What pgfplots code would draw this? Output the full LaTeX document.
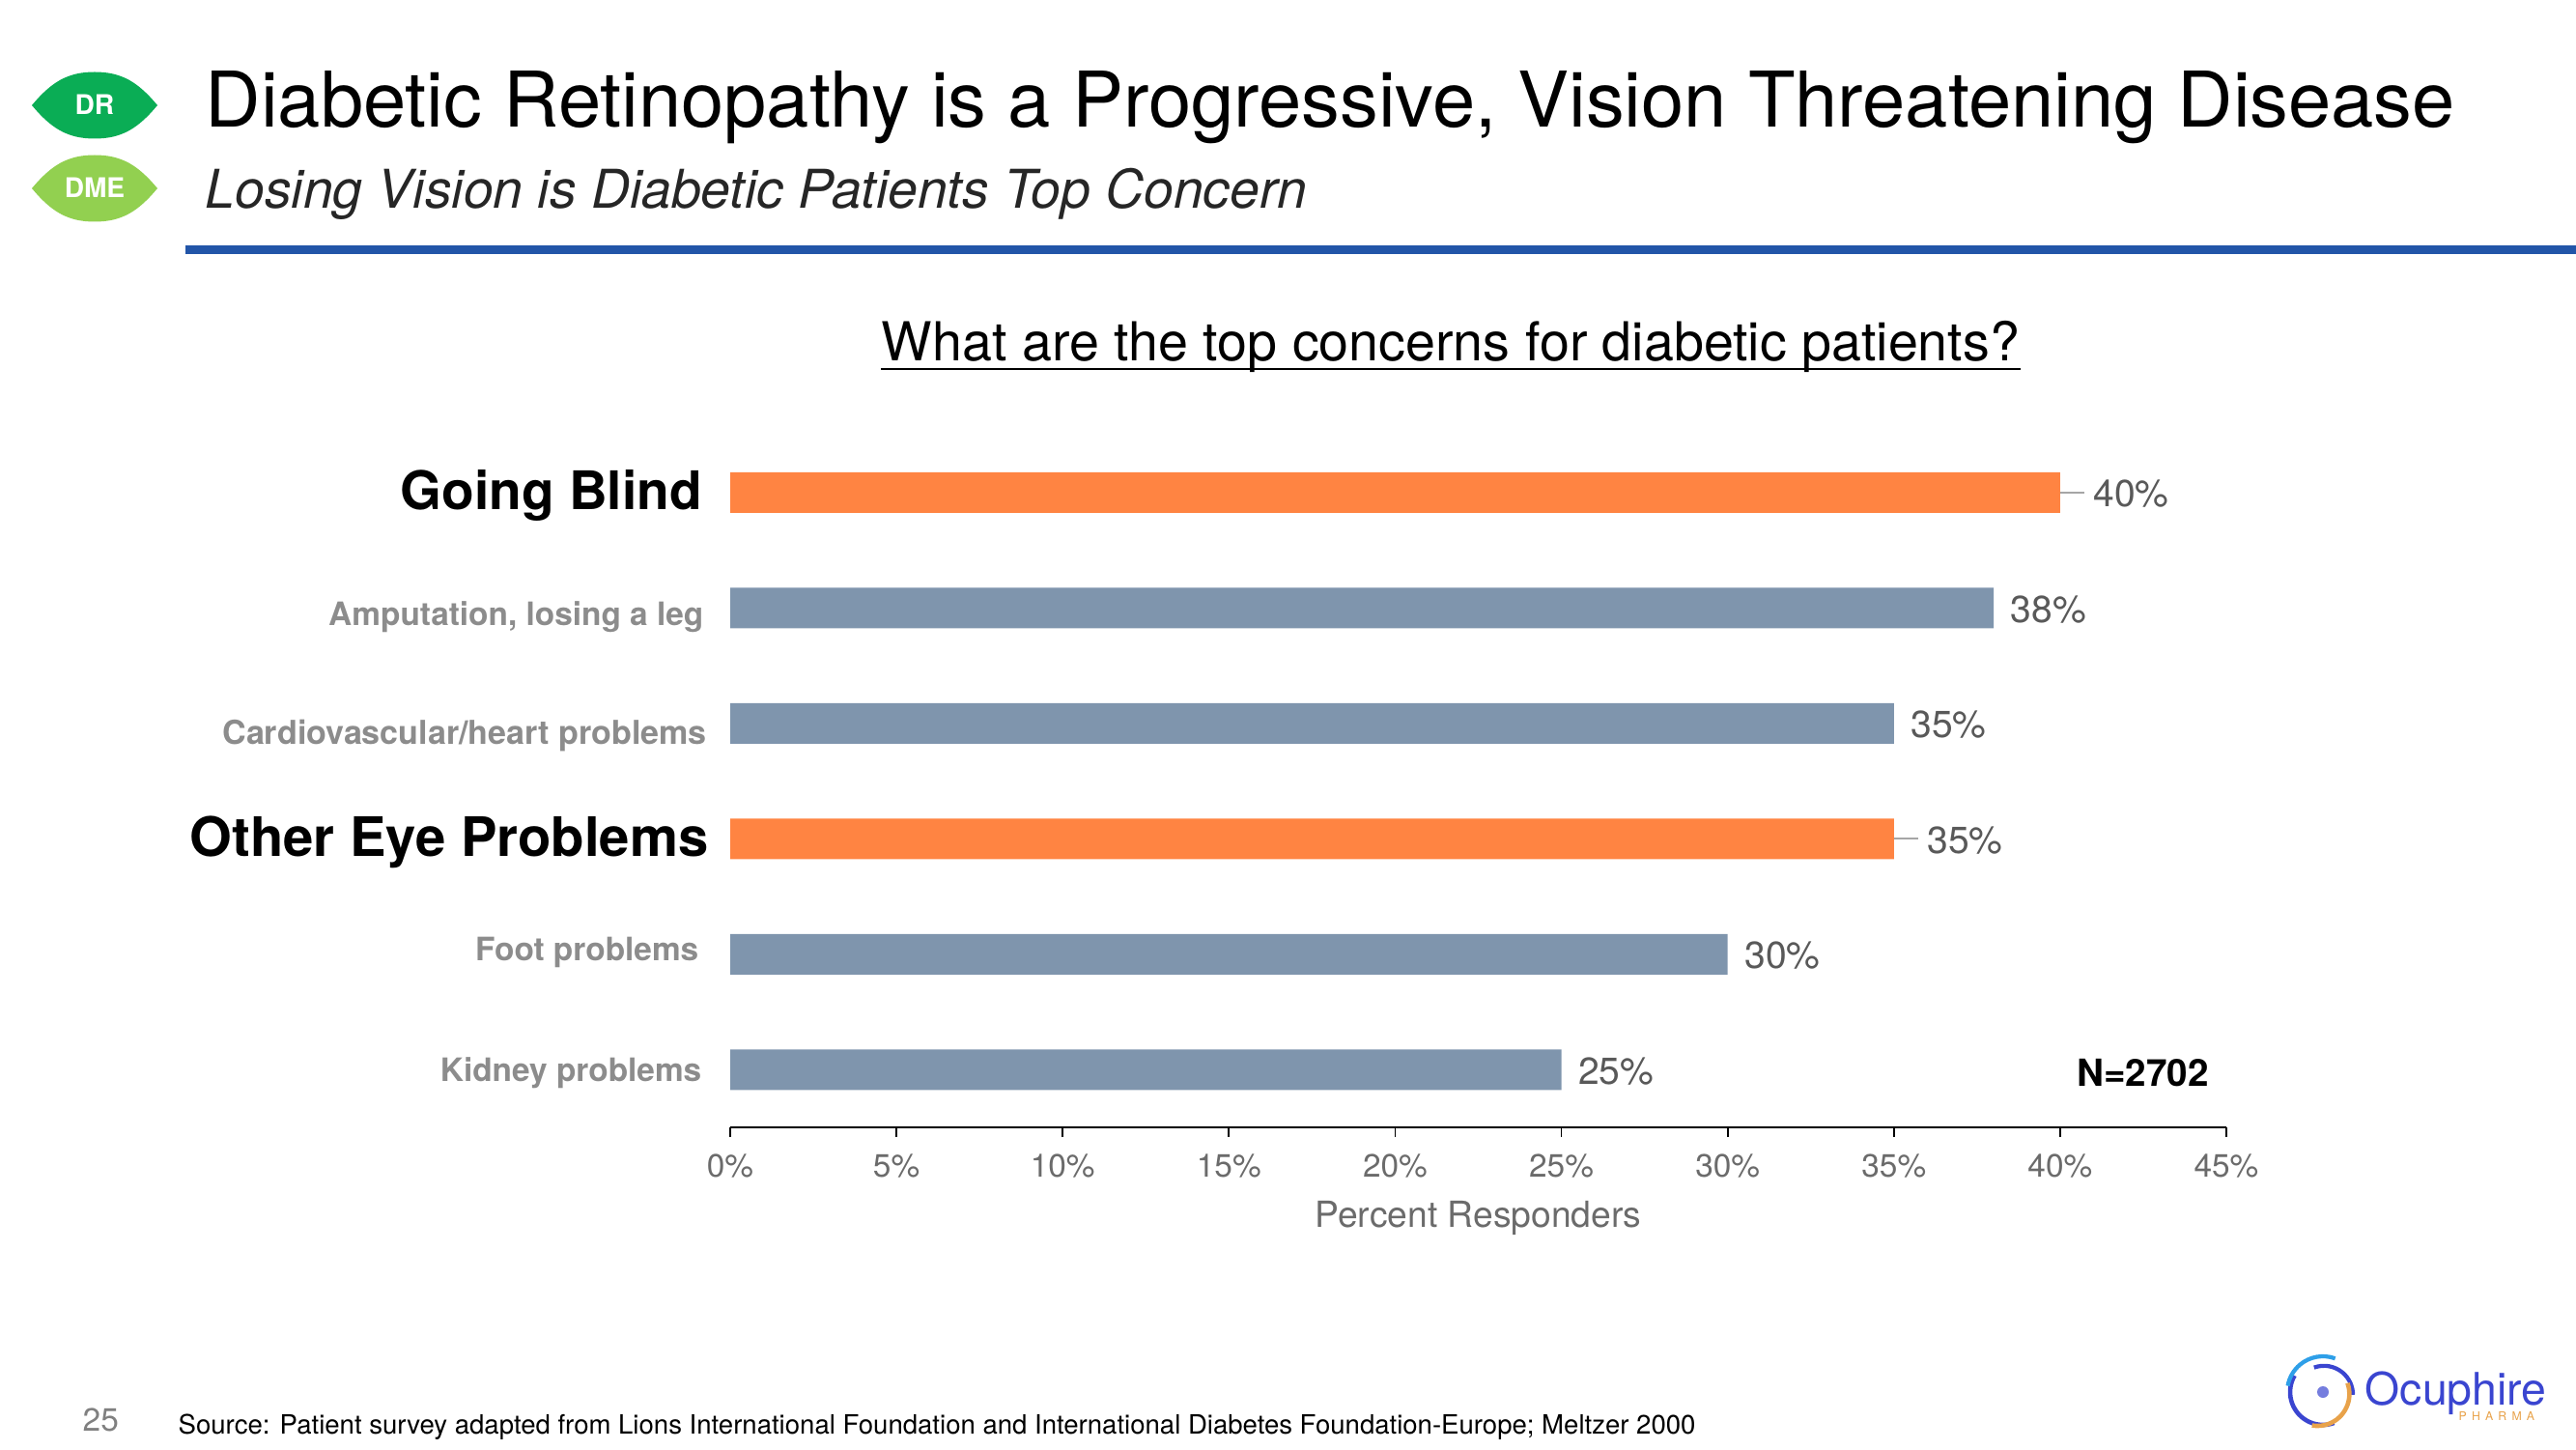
\documentclass[border=0pt]{standalone}
\usepackage{pgfplots}
\pgfplotsset{compat=1.18}
\usepackage{fontspec}
\setmainfont{TeX Gyre Heros}
\definecolor{barblue}{HTML}{7F95AD}
\definecolor{barorange}{HTML}{FF8442}
\definecolor{rule}{HTML}{2255A8}
\definecolor{lab}{HTML}{595959}
\definecolor{tlab}{HTML}{6B6B6B}
\definecolor{cat}{HTML}{8C8C8C}
\definecolor{drg}{HTML}{0AAD55}
\definecolor{dmeg}{HTML}{92D050}
\definecolor{ocu}{HTML}{3A45D0}
\definecolor{ocuo}{HTML}{E8A24A}
\definecolor{ocuc}{HTML}{2E9FE8}
\newcommand{\fs}[1]{\fontsize{#1}{#1}\selectfont}
\newcommand{\leaf}[4]{% x y fill text
  \fill[#3] (#1-0.65,#2) .. controls (#1-0.45,#2+0.24) and (#1-0.28,#2+0.345) .. (#1,#2+0.345)
     .. controls (#1+0.28,#2+0.345) and (#1+0.45,#2+0.24) .. (#1+0.65,#2)
     .. controls (#1+0.45,#2-0.24) and (#1+0.28,#2-0.345) .. (#1,#2-0.345)
     .. controls (#1-0.28,#2-0.345) and (#1-0.45,#2-0.24) .. (#1-0.65,#2) -- cycle;
  \node[text=white,font=\bfseries\fs{8}] at (#1,#2+0.01) {#4};}
\begin{document}
\begin{tikzpicture}[x=1cm,y=1cm]
\path[use as bounding box] (0,0) rectangle (26.67,15);
% header
\leaf{0.98}{13.91}{drg}{DR}
\leaf{0.98}{13.05}{dmeg}{DME}
\node[anchor=base west,inner sep=0pt,font=\fs{22.63}] at (2.12,13.68) {Diabetic Retinopathy is a Progressive, Vision Threatening Disease};
\node[anchor=base west,inner sep=0pt,font=\itshape\fs{15.73},text=black!85] at (2.12,12.84) {Losing Vision is Diabetic Patients Top Concern};
\fill[rule] (1.92,12.37) rectangle (26.67,12.46);
\node[anchor=base,inner sep=0pt,font=\fs{15.82}] (q) at (15.02,11.265) {What are the top concerns for diabetic patients?};
\draw[black,line width=0.7pt] ([yshift=-0.085cm]q.base west) -- ([yshift=-0.085cm]q.base east);
% chart
\begin{axis}[
  at={(7.56cm,3.33cm)},anchor=south west,
  scale only axis,width=15.49cm,height=7.17cm,
  xmin=0,xmax=45,ymin=-0.5,ymax=5.5,y dir=reverse,
  axis y line=none,
  axis x line*=bottom,
  axis line style={black,line width=0.5pt,-},
  xtick={0,5,...,45},
  xticklabel={\pgfmathprintnumber{\tick}\%},
  xticklabel style={font=\fs{9.5},text=tlab,yshift=-1.5pt},
  /pgf/number format/assume math mode=true,
  tick style={black,line width=0.5pt},
  tick align=outside,
  major tick length=0.1cm,
  xlabel={Percent Responders},
  xlabel style={font=\fs{10.6},text=tlab,yshift=0pt},
  ytick=\empty,
  clip=false,
  xbar,bar width=0.42cm,bar shift=0pt,
  nodes near coords={\pgfmathprintnumber{\pgfplotspointmeta}\%},
  point meta=x,
  nodes near coords style={font=\fs{11.1},text=lab,anchor=west,inner xsep=0pt,yshift=-0.4pt},
]
\addplot[draw=none,fill=barorange,every node near coord/.append style={xshift=0.34cm}] coordinates {(40,0) (35,3)};
\addplot[draw=none,fill=barblue,every node near coord/.append style={xshift=0.17cm}] coordinates {(38,1) (35,2) (30,4) (25,5)};
\draw[gray!70,line width=0.5pt] (axis cs:40,0) -- ([xshift=0.25cm]axis cs:40,0);
\draw[gray!70,line width=0.5pt] (axis cs:35,3) -- ([xshift=0.25cm]axis cs:35,3);
\node[anchor=east,inner sep=0pt,font=\bfseries\fs{15.66}] at ([xshift=-0.285cm,yshift=-0.03cm]axis cs:0,0) {Going Blind};
\node[anchor=east,inner sep=0pt,font=\bfseries\fs{9.5},text=cat] at ([xshift=-0.27cm,yshift=-0.095cm]axis cs:0,1) {Amputation, losing a leg};
\node[anchor=east,inner sep=0pt,font=\bfseries\fs{9.7},text=cat] at ([xshift=-0.235cm,yshift=-0.13cm]axis cs:0,2) {Cardiovascular/heart problems};
\node[anchor=east,inner sep=0pt,font=\bfseries\fs{16}] at ([xshift=-0.22cm,yshift=-0.04cm]axis cs:0,3) {Other Eye Problems};
\node[anchor=east,inner sep=0pt,font=\bfseries\fs{9.5},text=cat] at ([xshift=-0.32cm,yshift=0.015cm]axis cs:0,4) {Foot problems};
\node[anchor=east,inner sep=0pt,font=\bfseries\fs{9.5},text=cat] at ([xshift=-0.29cm,yshift=-0.035cm]axis cs:0,5) {Kidney problems};
\node[anchor=east,inner sep=0pt,font=\bfseries\fs{11}] at ([xshift=0.17cm,yshift=-0.03cm]axis cs:44,5) {N=2702};
\end{axis}
% footer
\node[anchor=base west,inner sep=0pt,font=\fs{9.5},text=gray] at (0.85,0.19) {25};
\node[anchor=base west,inner sep=0pt,font=\fs{7.84}] at (1.84,0.155) {Source: Patient survey adapted from Lions International Foundation and International Diabetes Foundation-Europe; Meltzer 2000};
% logo
\begin{scope}[shift={(24.05,0.59)}]
\fill[ocu!70!white] (0,0) circle (0.06);
\draw[ocu,line width=1.3pt] (150:0.34) arc (150:290:0.34);
\draw[ocuc,line width=1.2pt] (70:0.37) arc (70:170:0.37);
\draw[ocu,line width=1.2pt] (110:0.27) arc (110:0:0.3);
\draw[ocuo,line width=1.3pt] (20:0.27) arc (20:-100:0.33);
\end{scope}
\node[anchor=base west,inner sep=0pt,font=\fs{13.2},text=ocu] at (24.48,0.46) {Ocuphire};
\node[anchor=base west,inner sep=0pt,font=\fs{3.5},text=ocuo] at (25.45,0.3) {P\hspace{0.8ex}H\hspace{0.8ex}A\hspace{0.8ex}R\hspace{0.8ex}M\hspace{0.8ex}A};
\end{tikzpicture}
\end{document}
